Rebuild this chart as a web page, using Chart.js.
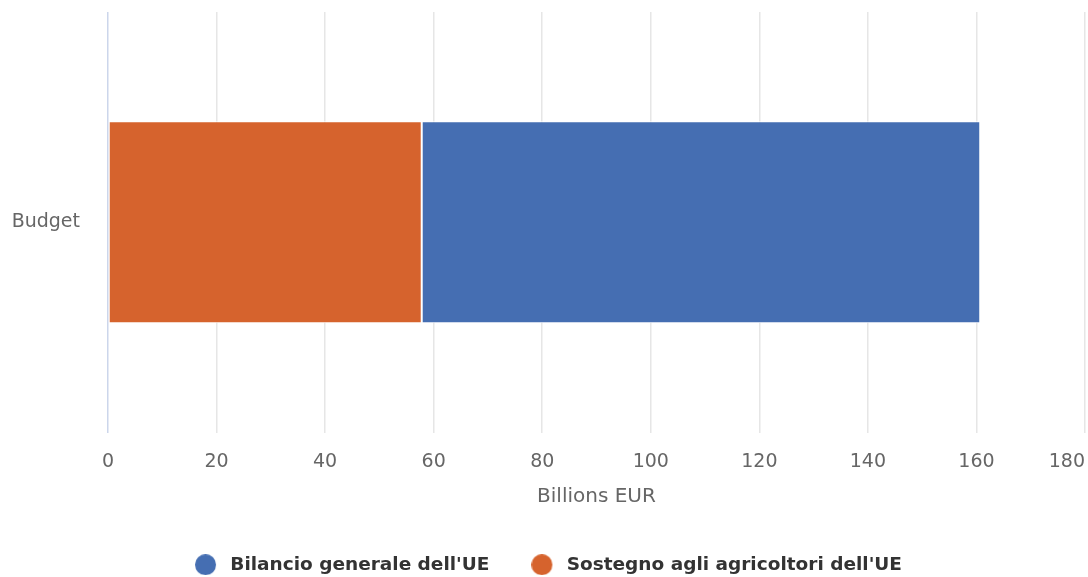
<!DOCTYPE html>
<html>
<head>
<meta charset="utf-8">
<script src="https://cdn.jsdelivr.net/npm/chart.js@4.4.1/dist/chart.umd.min.js"></script>
<style>
html,body{margin:0;padding:0;background:#fff;}
#wrap{width:1088px;height:577px;position:relative;}
</style>
</head>
<body>
<div id="wrap"><canvas id="c" width="1088" height="577"></canvas></div>
<script>
const categories = ['Budget'];
const seriesNames = ["Sostegno agli agricoltori dell'UE", "Bilancio generale dell'UE"];
const sostegnoValues = [57.8];
const bilancioValues = [102.9];
const xTicks = [0, 20, 40, 60, 80, 100, 120, 140, 160, 180];
const axisTitle = 'Billions EUR';

const FONT = "'DejaVu Sans', sans-serif";

const lastLabelFix = {
  id: 'lastLabelFix',
  beforeDraw(chart) {
    const s = chart.scales.x;
    const items = s.getLabelItems();
    const last = items[items.length - 1];
    if (last) { last.options.textAlign = 'right'; }
  }
};

function legendMarker(color) {
  const cv = document.createElement('canvas');
  cv.width = 26; cv.height = 21;
  const g = cv.getContext('2d');
  g.fillStyle = color;
  g.beginPath();
  g.arc(10.5, 10.5, 10.5, 0, Math.PI * 2);
  g.fill();
  return cv;
}

new Chart(document.getElementById('c'), {
  type: 'bar',
  data: {
    labels: categories,
    datasets: [
      { label: seriesNames[0], data: sostegnoValues, backgroundColor: '#d6632d', borderColor: '#ffffff', borderWidth: 1, borderSkipped: false },
      { label: seriesNames[1], data: bilancioValues, backgroundColor: '#456eb2', borderColor: '#ffffff', borderWidth: 1, borderSkipped: false }
    ]
  },
  plugins: [lastLabelFix],
  options: {
    indexAxis: 'y',
    responsive: false,
    animation: false,
    maintainAspectRatio: false,
    layout: { padding: { left: 12, right: 3, top: 12, bottom: -7 } },
    datasets: { bar: { categoryPercentage: 0.8, barPercentage: 0.6 } },
    scales: {
      x: {
        type: 'linear', stacked: true, min: 0, max: 180,
        afterBuildTicks: (s) => { s.ticks = xTicks.map(v => ({ value: v })); },
        afterFit: (s) => { s.paddingRight = 0; s.height = 81; },
        border: { display: false },
        grid: {
          color: (ctx) => ctx.tick && ctx.tick.value === 0 ? '#ccd6eb' : '#e6e6e6',
          lineWidth: 1.5,
          drawTicks: false
        },
        ticks: { color: '#666666', font: { family: FONT, size: 19 }, padding: 18, maxRotation: 0 },
        title: { display: true, text: axisTitle, color: '#666666', font: { family: FONT, size: 20 }, padding: { top: 0, bottom: 5 } }
      },
      y: {
        stacked: true,
        afterFit: (s) => { s.width = 96; s.paddingTop = 0; s.paddingBottom = 0; },
        border: { display: false },
        grid: { display: false, drawTicks: false },
        ticks: { color: '#666666', font: { family: FONT, size: 19 }, padding: 28 }
      }
    },
    plugins: {
      tooltip: { enabled: false },
      legend: {
        position: 'bottom',
        reverse: true,
        labels: {
          usePointStyle: true,
          boxHeight: 15,
          pointStyleWidth: 26,
          padding: 42,
          color: '#333333',
          font: { family: FONT, size: 18.5, weight: 'bold' },
          generateLabels: (chart) => {
            const items = Chart.defaults.plugins.legend.labels.generateLabels(chart);
            items.forEach(it => {
              it.lineWidth = 0;
              it.strokeStyle = it.fillStyle;
              it.pointStyle = legendMarker(chart.data.datasets[it.datasetIndex].backgroundColor);
            });
            return items;
          }
        }
      }
    }
  }
});
</script>
</body>
</html>
